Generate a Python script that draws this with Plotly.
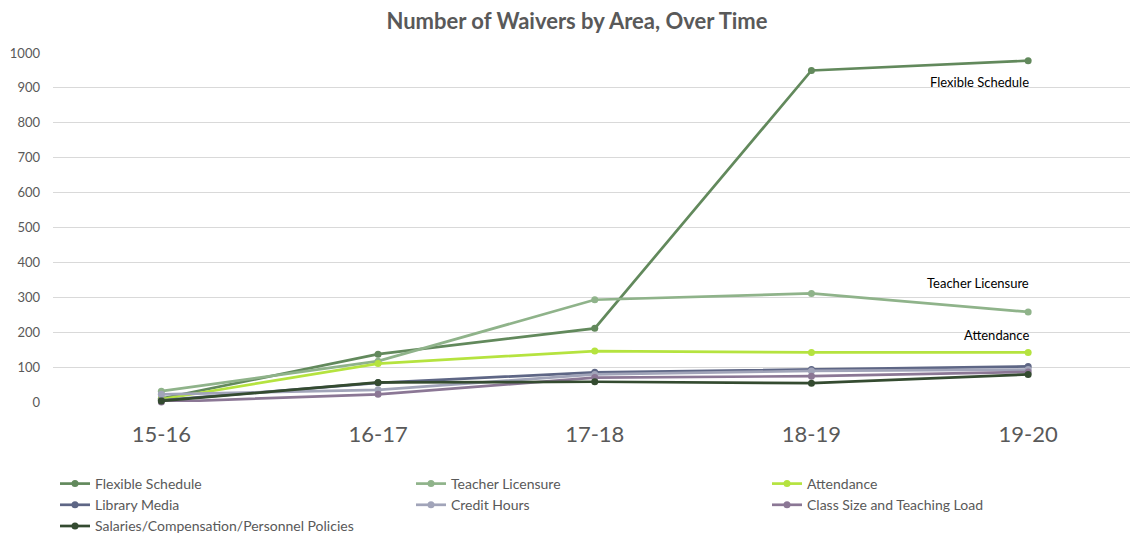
import plotly.graph_objects as go

categories = ["15-16", "16-17", "17-18", "18-19", "19-20"]
flexible_schedule = [10, 137, 211, 950, 978]
teacher_licensure = [31, 117, 293, 311, 258]
attendance = [8, 110, 146, 142, 142]
library_media = [5, 55, 85, 93, 102]
credit_hours = [22, 35, 79, 89, 93]
class_size = [0, 22, 70, 74, 86]
salaries = [3, 56, 58, 54, 79]

series = [
    ("Flexible Schedule", flexible_schedule, "#62895c"),
    ("Teacher Licensure", teacher_licensure, "#8fb38a"),
    ("Attendance", attendance, "#b5e33f"),
    ("Library Media", library_media, "#5e6685"),
    ("Credit Hours", credit_hours, "#a1a4b9"),
    ("Class Size and Teaching Load", class_size, "#8b7795"),
    ("Salaries/Compensation/Personnel Policies", salaries, "#344b30"),
]

FONT = "Lato, 'Liberation Sans', sans-serif"
GRAY = "#595959"

fig = go.Figure()
for name, vals, color in series:
    fig.add_trace(go.Scatter(
        x=categories, y=vals, name=name, mode="lines+markers",
        line=dict(color=color, width=2.7),
        marker=dict(color=color, size=7),
        cliponaxis=False,
    ))

labels = [("Flexible Schedule", 4, 916), ("Teacher Licensure", 4, 340), ("Attendance", 4, 191)]
for text, xi, yv in labels:
    fig.add_annotation(x=categories[xi], y=yv, text=text, showarrow=False,
                       xanchor="right", yanchor="middle", xshift=3,
                       font=dict(family=FONT, size=13, color="#000000"))

fig.update_layout(
    width=1130, height=534,
    margin=dict(l=53, r=0, t=53, b=132),
    paper_bgcolor="white", plot_bgcolor="white",
    title=dict(text="<b>Number of Waivers by Area, Over Time</b>", x=577 / 1130, xanchor="center",
               y=1 - 21 / 534, yanchor="middle", xref="container",
               font=dict(family=FONT, size=22, color=GRAY)),
    font=dict(family=FONT, color=GRAY),
    showlegend=True,
    legend=dict(orientation="h", xref="container", yref="container",
                x=55 / 1130, xanchor="left", y=1 - 468 / 534, yanchor="top",
                entrywidth=311, entrywidthmode="pixels",
                font=dict(family=FONT, size=14, color=GRAY),
                tracegroupgap=0, itemwidth=30),
)
fig.update_xaxes(range=[-0.5, 4.47], showgrid=False, zeroline=False, showline=False,
                 ticks="", tickfont=dict(family=FONT, size=22, color=GRAY),
                 ticklabelstandoff=17)
fig.update_yaxes(range=[0, 1000], dtick=100, showgrid=True, gridcolor="#d9d9d9", gridwidth=1.3,
                 zeroline=False, showline=False, ticks="",
                 tickfont=dict(family=FONT, size=13, color=GRAY), ticklabelstandoff=12)

fig.write_html("out.html")
